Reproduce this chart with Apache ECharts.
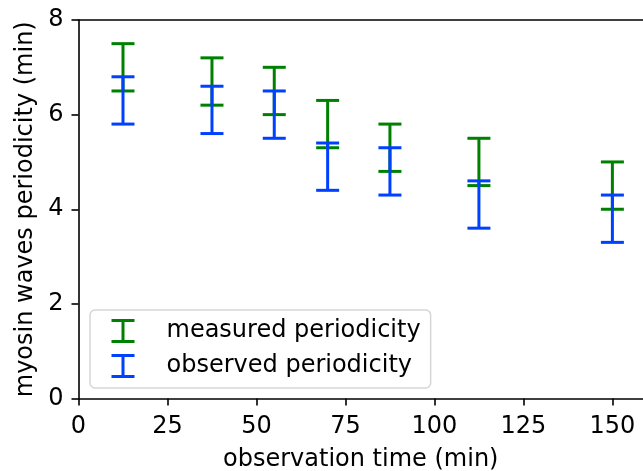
<!DOCTYPE html>
<html>
<head>
<meta charset="utf-8">
<script src="https://cdn.jsdelivr.net/npm/echarts@6/dist/echarts.min.js"></script>
<style>html,body{margin:0;padding:0;background:#fff}#c{width:643px;height:471px}</style>
</head>
<body>
<div id="c"></div>
<script>
const times = [12.5, 37.5, 55, 70, 87.5, 112.5, 150];
const measuredLow  = [6.5, 6.2, 6.0, 5.3, 4.8, 4.5, 4.0];
const measuredHigh = [7.5, 7.2, 7.0, 6.3, 5.8, 5.5, 5.0];
const observedLow  = [5.8, 5.6, 5.5, 4.4, 4.3, 3.6, 3.3];
const observedHigh = [6.8, 6.6, 6.5, 5.4, 5.3, 4.6, 4.3];
const xTicks = [0, 25, 50, 75, 100, 125, 150];

const FONT = 'DejaVu Sans';
const FS = 24;
// I-beam legend handle, with invisible bounding points to reserve the handle width
const ibeam = 'path://M0,12h0.01v0.01h-0.01Z M60,12h0.01v0.01h-0.01Z M10,0H33V3H23V21H33V24H10V21H20V3H10Z';

function errRender(params, api) {
  const x = api.value(0), lo = api.value(1), hi = api.value(2);
  const t = api.coord([x, hi]), b = api.coord([x, lo]);
  const hw = 11.5;
  const style = { stroke: api.visual('color'), lineWidth: 3 };
  return { type: 'group', children: [
    { type: 'line', shape: { x1: t[0], y1: t[1], x2: b[0], y2: b[1] }, style },
    { type: 'line', shape: { x1: t[0] - hw, y1: t[1], x2: t[0] + hw, y2: t[1] }, style },
    { type: 'line', shape: { x1: b[0] - hw, y1: b[1], x2: b[0] + hw, y2: b[1] }, style }
  ]};
}

const chart = echarts.init(document.getElementById('c'), null, { renderer: 'canvas' });
const axisLine = { lineStyle: { color: '#000', width: 1.6 } };
chart.setOption({
  animation: false,
  backgroundColor: '#fff',
  grid: { left: 78.5, right: 0, top: 20, bottom: 72.5, containLabel: false, outerBoundsMode: 'none' },
  legend: {
    orient: 'vertical', left: 90, top: 310,
    padding: [9, 10, 10, 11.5],
    itemWidth: 60.01, itemHeight: 24, itemGap: 11,
    borderColor: '#d6d6d6', borderWidth: 1.5, borderRadius: 5,
    backgroundColor: 'rgba(255,255,255,0.8)',
    textStyle: { fontFamily: FONT, fontSize: FS, color: '#000' },
    data: [
      { name: 'measured periodicity', icon: ibeam },
      { name: 'observed periodicity', icon: ibeam }
    ]
  },
  xAxis: [{
    type: 'value', min: 0, max: 158.6,
    name: 'observation time (min)', nameLocation: 'middle', nameGap: 49,
    nameTextStyle: { fontFamily: FONT, fontSize: FS, color: '#000' },
    axisLine,
    axisTick: { inside: false, length: 7, lineStyle: { color: '#000', width: 1.6 }, customValues: xTicks },
    axisLabel: { fontFamily: FONT, fontSize: FS, color: '#000', margin: 16, customValues: xTicks },
    splitLine: { show: false }
  }, {
    type: 'value', position: 'top', min: 0, max: 158.6,
    axisLine, axisTick: { show: false }, axisLabel: { show: false }, splitLine: { show: false }
  }],
  yAxis: {
    type: 'value', min: 0, max: 8, interval: 2,
    name: 'myosin waves periodicity (min)', nameLocation: 'middle', nameGap: 36,
    nameTextStyle: { fontFamily: FONT, fontSize: FS, color: '#000' },
    axisLine,
    axisTick: { inside: false, length: 7, lineStyle: { color: '#000', width: 1.6 } },
    axisLabel: { fontFamily: FONT, fontSize: FS, color: '#000', margin: 15 },
    splitLine: { show: false }
  },
  series: [
    {
      name: 'measured periodicity', type: 'custom', renderItem: errRender,
      itemStyle: { color: '#008000' },
      encode: { x: 0, y: [1, 2] },
      data: times.map((t, i) => [t, measuredLow[i], measuredHigh[i]])
    },
    {
      name: 'observed periodicity', type: 'custom', renderItem: errRender,
      itemStyle: { color: '#0040ff' },
      encode: { x: 0, y: [1, 2] },
      data: times.map((t, i) => [t, observedLow[i], observedHigh[i]])
    }
  ]
});
</script>
</body>
</html>
